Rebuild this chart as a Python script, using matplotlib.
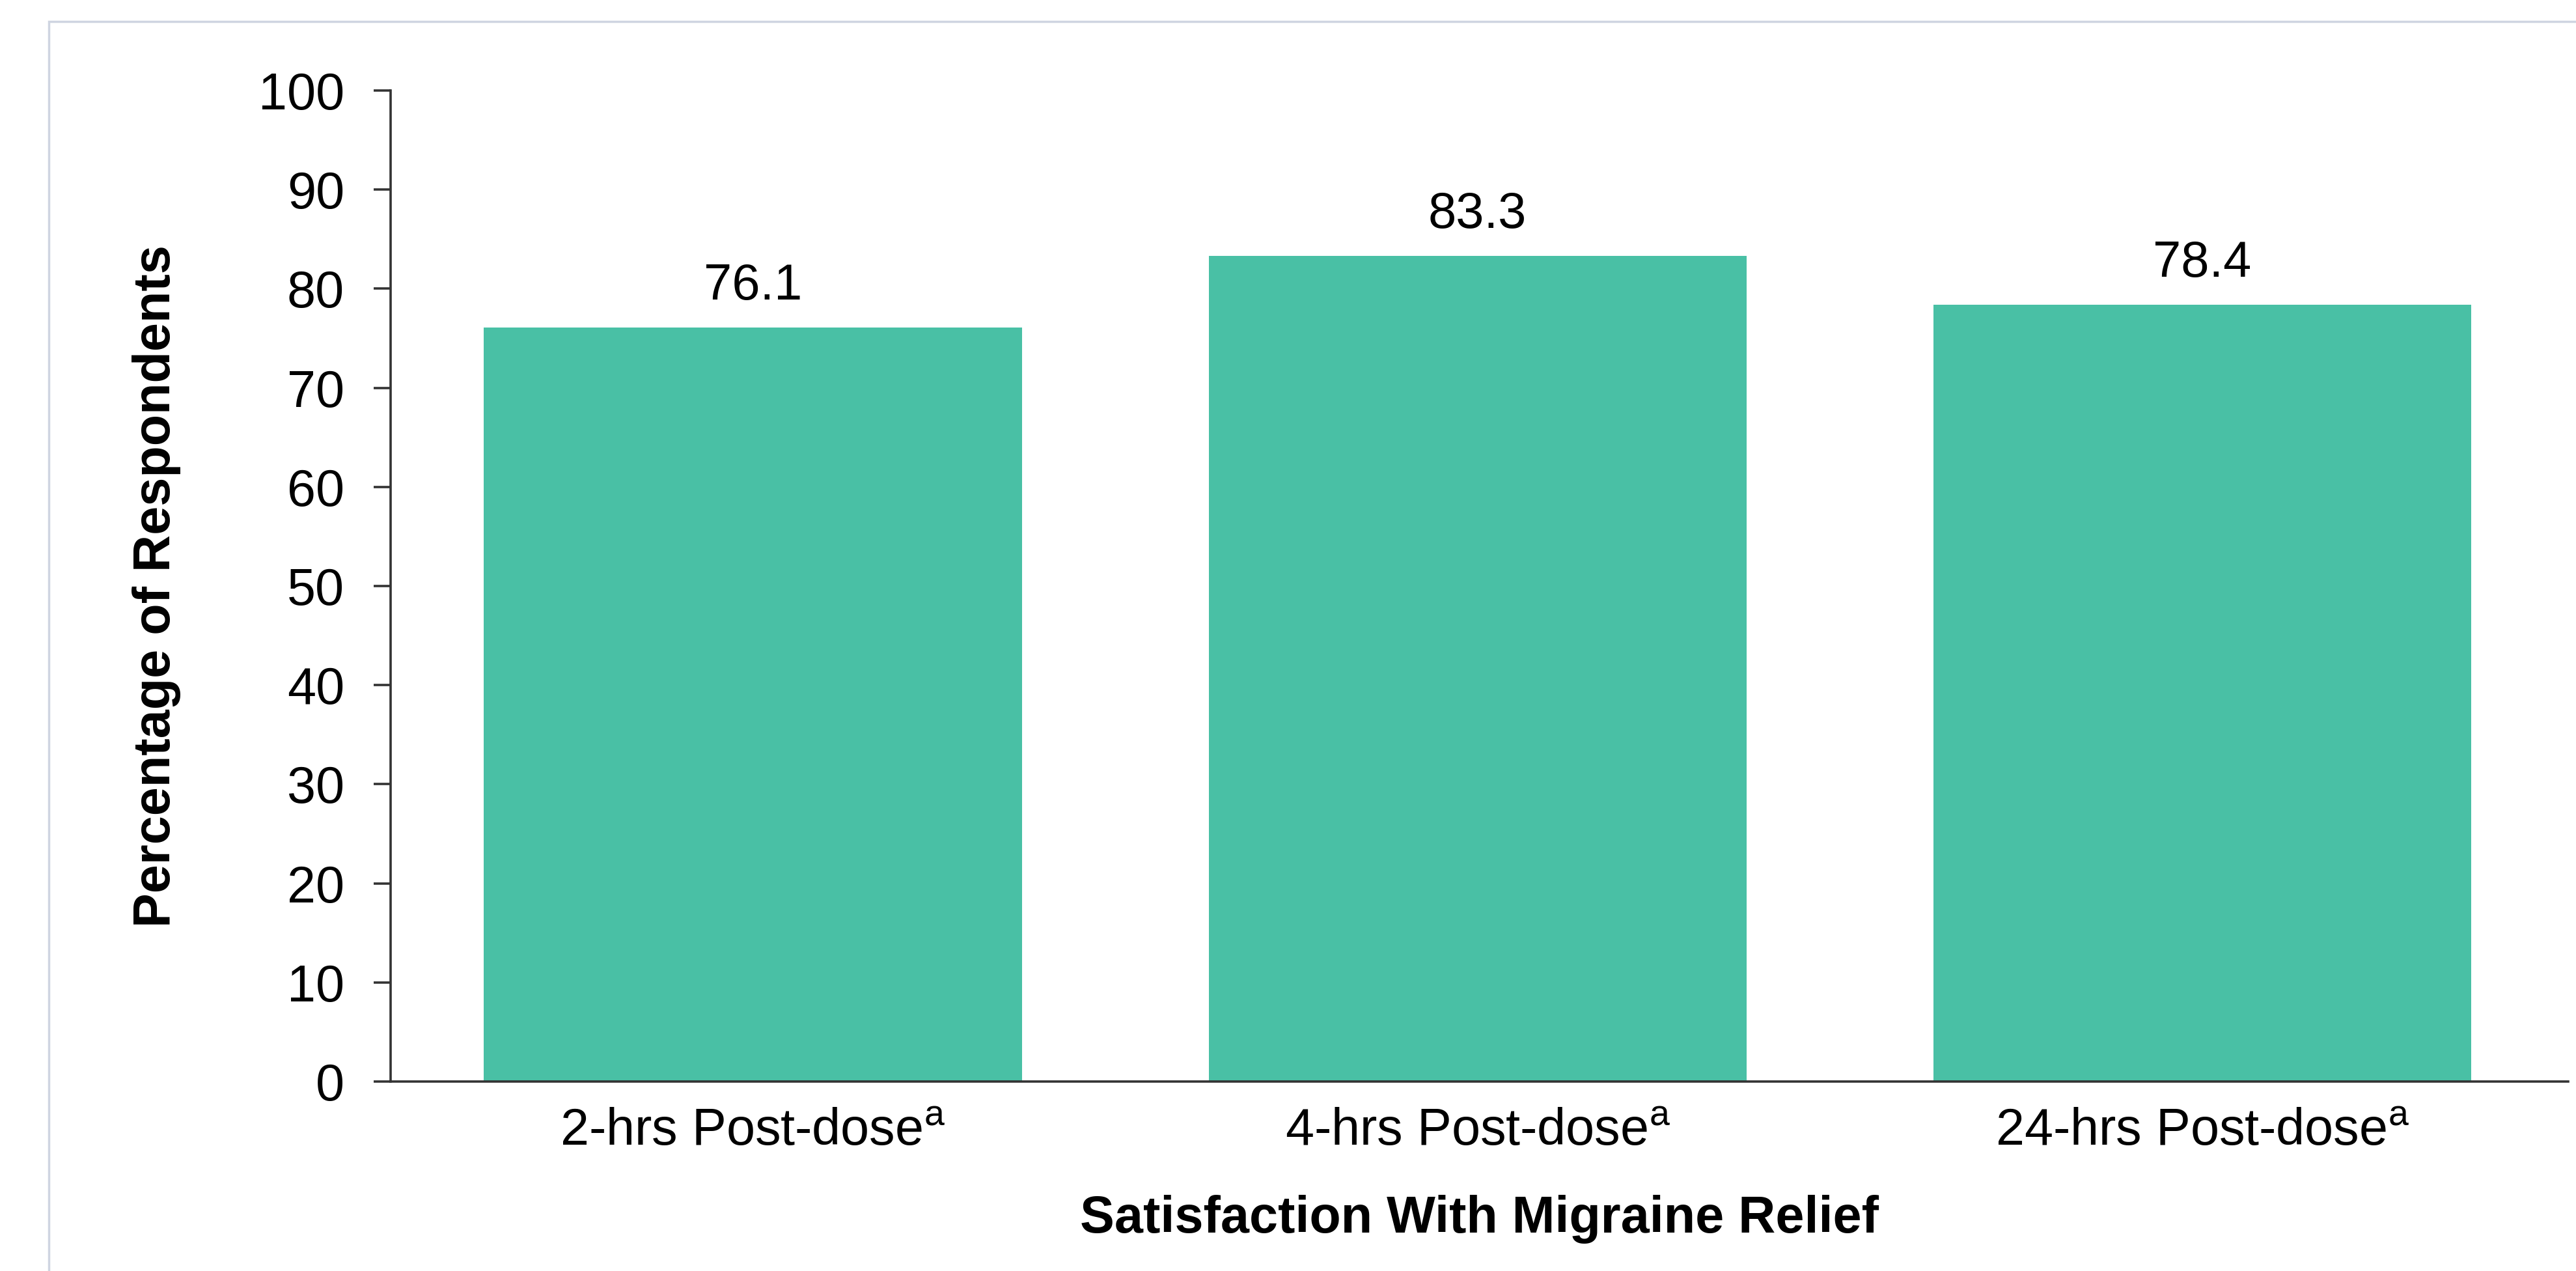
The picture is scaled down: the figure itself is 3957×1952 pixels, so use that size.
import matplotlib
matplotlib.use("Agg")
import matplotlib.pyplot as plt
from matplotlib.patches import Rectangle

plt.rcParams['font.family'] = ['Liberation Sans', 'DejaVu Sans']
plt.rcParams['mathtext.fontset'] = 'custom'
plt.rcParams['mathtext.rm'] = 'Liberation Sans'

# satisfaction with migraine relief by time point
timepoints = ['2-hrs Post-dose', '4-hrs Post-dose', '24-hrs Post-dose']
pct = [76.1, 83.3, 78.4]
yticks = [0, 10, 20, 30, 40, 50, 60, 70, 80, 90, 100]

bar_color = '#49C0A5'
axis_color = '#333333'

fig = plt.figure(figsize=(39.57, 19.52), dpi=100)
ax = fig.add_axes([0.1516, 0.1491, 0.8454, 0.7797])

x = range(len(timepoints))
ax.bar(x, pct, width=0.742, color=bar_color, zorder=1)

for xi, v in zip(x, pct):
    ax.annotate(f'{v:.1f}', (xi, v), xytext=(0, 31), textcoords='offset points',
                ha='center', va='baseline', fontsize=56, color='black')

ax.set_xlim(-0.5, 2.505)
ax.set_ylim(0, 100)
ax.set_yticks(yticks)
ax.set_xticks(list(x))
ax.set_xticklabels([t + r'$^{\mathrm{a}}$' for t in timepoints])

for s in ['top', 'right']:
    ax.spines[s].set_visible(False)
for s in ['left', 'bottom']:
    ax.spines[s].set_color(axis_color)
    ax.spines[s].set_linewidth(2.6)
    ax.spines[s].set_zorder(3)

ax.tick_params(axis='y', length=19, width=2.6, color=axis_color, pad=32,
               labelsize=57, labelcolor='black')
ax.tick_params(axis='x', length=0, pad=29, labelsize=57, labelcolor='black')

fig.text(0.0607, 0.539, 'Percentage of Respondents', rotation=90,
         ha='center', va='center', fontsize=57, fontweight='bold')
fig.text(0.5742, 0.0405, 'Satisfaction With Migraine Relief',
         ha='center', va='center', fontsize=57, fontweight='bold')

# light outer frame
fig.patches.append(Rectangle((0.019, -0.1), 1.1, 1.083, transform=fig.transFigure,
                             fill=False, edgecolor='#CFD5E1', linewidth=2.5))

fig.savefig('out.png', dpi=100)
